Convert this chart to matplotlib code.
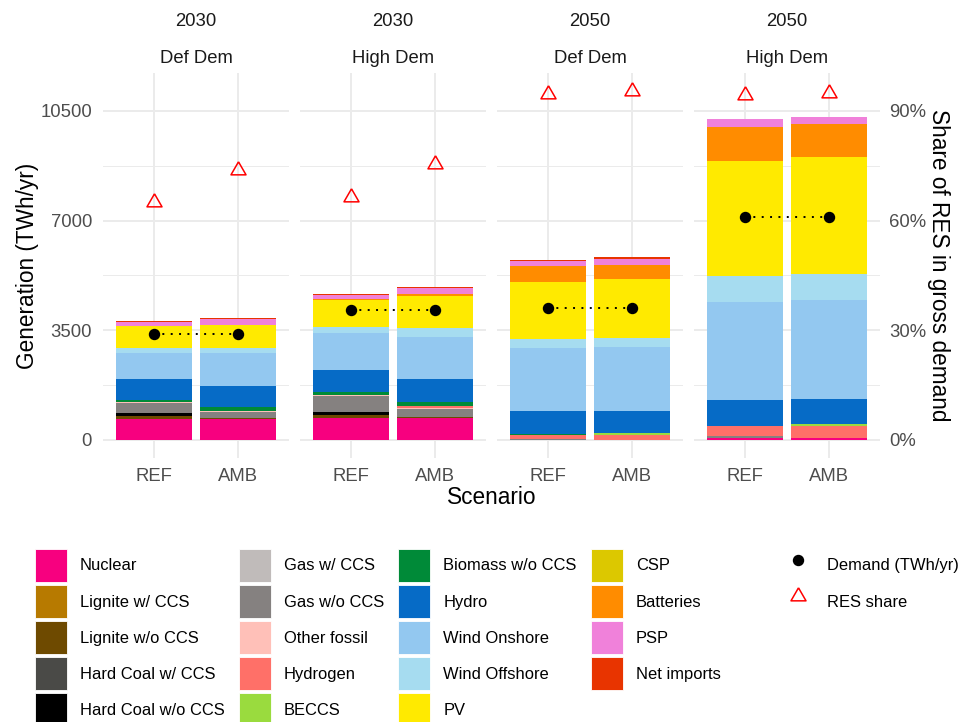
import matplotlib.pyplot as plt
from matplotlib.patches import Patch
from matplotlib.lines import Line2D
from matplotlib.ticker import FuncFormatter

plt.rcParams['font.family'] = ['Liberation Sans', 'DejaVu Sans']

# facets and scenarios
years = ['2030', '2030', '2050', '2050']
demand_cases = ['Def Dem', 'High Dem', 'Def Dem', 'High Dem']
scenarios = ['REF', 'AMB']

# generation in TWh/yr, order: 2030 Def REF/AMB, 2030 High REF/AMB, 2050 Def REF/AMB, 2050 High REF/AMB
nuclear = [670, 660, 700, 700, 15, 0, 64, 64]
lignite_ccs = [0, 0, 0, 0, 0, 0, 0, 0]
lignite = [85, 30, 96, 30, 0, 0, 0, 0]
hardcoal_ccs = [0, 0, 0, 0, 0, 0, 0, 0]
hardcoal = [106, 0, 106, 0, 0, 0, 0, 0]
gas_ccs = [0, 0, 0, 0, 0, 0, 0, 0]
gas = [320, 190, 510, 266, 30, 0, 70, 0]
other_fossil = [30, 50, 30, 40, 0, 0, 0, 0]
hydrogen = [0, 0, 0, 35, 128, 170, 309, 372]
beccs = [0, 0, 0, 0, 0, 64, 0, 85]
biomass = [75, 128, 75, 138, 30, 0, 10, 0]
hydro = [650, 660, 712, 723, 723, 702, 808, 787]
wind_on = [850, 1050, 1200, 1340, 2020, 2042, 3137, 3169]
wind_off = [150, 160, 180, 287, 277, 277, 840, 819]
pv = [690, 755, 860, 1031, 1830, 1872, 3669, 3722]
csp = [0, 0, 0, 0, 0, 0, 0, 0]
batteries = [0, 0, 30, 64, 489, 468, 1095, 1053]
psp = [128, 190, 138, 202, 170, 191, 255, 245]
net_imports = [32, 20, 30, 32, 42, 53, 0, 0]

demand = [3372, 3372, 4137, 4137, 4211, 4211, 7124, 7124]
res_share = [65.1, 73.9, 66.4, 75.5, 94.6, 95.5, 94.4, 95.0]

stack = [
    ('Nuclear', nuclear, '#F7007F'),
    ('Lignite w/ CCS', lignite_ccs, '#B77A00'),
    ('Lignite w/o CCS', lignite, '#6E4A00'),
    ('Hard Coal w/ CCS', hardcoal_ccs, '#4A4A47'),
    ('Hard Coal w/o CCS', hardcoal, '#000000'),
    ('Gas w/ CCS', gas_ccs, '#C0BBBA'),
    ('Gas w/o CCS', gas, '#858180'),
    ('Other fossil', other_fossil, '#FFC0B8'),
    ('Hydrogen', hydrogen, '#FF7068'),
    ('BECCS', beccs, '#9ADB3E'),
    ('Biomass w/o CCS', biomass, '#008A38'),
    ('Hydro', hydro, '#066BC6'),
    ('Wind Onshore', wind_on, '#93C8F0'),
    ('Wind Offshore', wind_off, '#A6DCF0'),
    ('PV', pv, '#FFEA00'),
    ('CSP', csp, '#DCC800'),
    ('Batteries', batteries, '#FF8C00'),
    ('PSP', psp, '#F081DA'),
    ('Net imports', net_imports, '#E83400'),
]

SCALE = 3500 / 30  # TWh per percentage point on the secondary axis
tri = [(0, 1), (0.866, -0.5), (-0.866, -0.5), (0, 1)]

W, H = 962, 722
fig = plt.figure(figsize=(W / 100, H / 100), dpi=100)

lefts = [103, 300, 497, 694]
pw, top, bot = 186, 73, 458

axes = []
for i, x0 in enumerate(lefts):
    ax = fig.add_axes([x0 / W, 1 - bot / H, pw / W, (bot - top) / H])
    axes.append(ax)
    pos = [1, 2]
    base = [0, 0]
    for label, vals, col in stack:
        v = vals[2 * i:2 * i + 2]
        ax.bar(pos, v, width=0.9, bottom=base, color=col, linewidth=0, zorder=2)
        base = [b + h for b, h in zip(base, v)]
    d = demand[2 * i:2 * i + 2]
    ax.plot(pos, d, linestyle=(0, (1, 3.3)), color='black', lw=1.4, zorder=3)
    ax.plot(pos, d, 'o', color='black', markersize=7.2, zorder=4)
    s = [r * SCALE for r in res_share[2 * i:2 * i + 2]]
    ax.plot(pos, s, linestyle='none', marker=tri, markersize=12.5,
            markerfacecolor='none', markeredgecolor='#FF0000', markeredgewidth=1.1, zorder=4)

    ax.set_xlim(0.4, 2.6)
    ax.set_ylim(-575, 11710)
    ax.set_xticks(pos)
    ax.set_xticklabels(scenarios)
    ax.set_yticks([0, 3500, 7000, 10500])
    ax.set_yticks([1750, 5250, 8750], minor=True)
    ax.grid(which='major', color='#EBEBEB', lw=1.4, zorder=0)
    ax.grid(which='minor', axis='y', color='#EBEBEB', lw=0.7, zorder=0)
    ax.set_axisbelow(True)
    for sp in ax.spines.values():
        sp.set_visible(False)
    ax.tick_params(which='both', length=0, labelsize=13.3, colors='#4D4D4D')
    ax.tick_params(axis='x', pad=7)
    ax.tick_params(axis='y', pad=8, labelleft=(i == 0))

    ax.text(0.5, 1 - (22 - top) / (bot - top), years[i], transform=ax.transAxes,
            ha='center', va='center', fontsize=13.3, color='#1A1A1A')
    ax.text(0.5, 1 - (58.5 - top) / (bot - top), demand_cases[i], transform=ax.transAxes,
            ha='center', va='center', fontsize=13.3, color='#1A1A1A')

sec = axes[-1].secondary_yaxis('right', functions=(lambda y: y / SCALE, lambda p: p * SCALE))
sec.set_yticks([0, 30, 60, 90])
sec.yaxis.set_major_formatter(FuncFormatter(lambda v, _: f'{v:.0f}%'))
sec.tick_params(length=0, labelsize=13.3, colors='#4D4D4D', pad=6.5)
for sp in sec.spines.values():
    sp.set_visible(False)
sec.set_ylabel('Share of RES in gross demand', fontsize=16.3, rotation=-90,
               labelpad=17, color='black')

axes[0].set_ylabel('Generation (TWh/yr)', fontsize=16.3, labelpad=1)
fig.text((lefts[0] + lefts[-1] + pw) / 2 / W, 1 - 497 / H, 'Scenario',
         ha='center', va='center', fontsize=16.3)

# legends
fill_handles = [Patch(facecolor=col, edgecolor='white', linewidth=0.6, label=label)
                for label, _, col in stack]
leg_kw = dict(loc='upper left', frameon=False, fontsize=11.9, handlelength=1.94,
              handleheight=2.7, handletextpad=0.79, labelspacing=0.18,
              borderaxespad=0, borderpad=0)
fig.legend(handles=fill_handles, ncol=4, columnspacing=0.85,
           bbox_to_anchor=(35 / W, 1 - 549 / H), **leg_kw)
point_handles = [
    Line2D([], [], linestyle='none', marker='o', color='black', markersize=7.2,
           label='Demand (TWh/yr)'),
    Line2D([], [], linestyle='none', marker=tri, markersize=12.5, markerfacecolor='none',
           markeredgecolor='#FF0000', markeredgewidth=1.1, label='RES share'),
]
fig.legend(handles=point_handles, bbox_to_anchor=(782 / W, 1 - 549 / H), **leg_kw)

fig.savefig('out.png', dpi=100)
